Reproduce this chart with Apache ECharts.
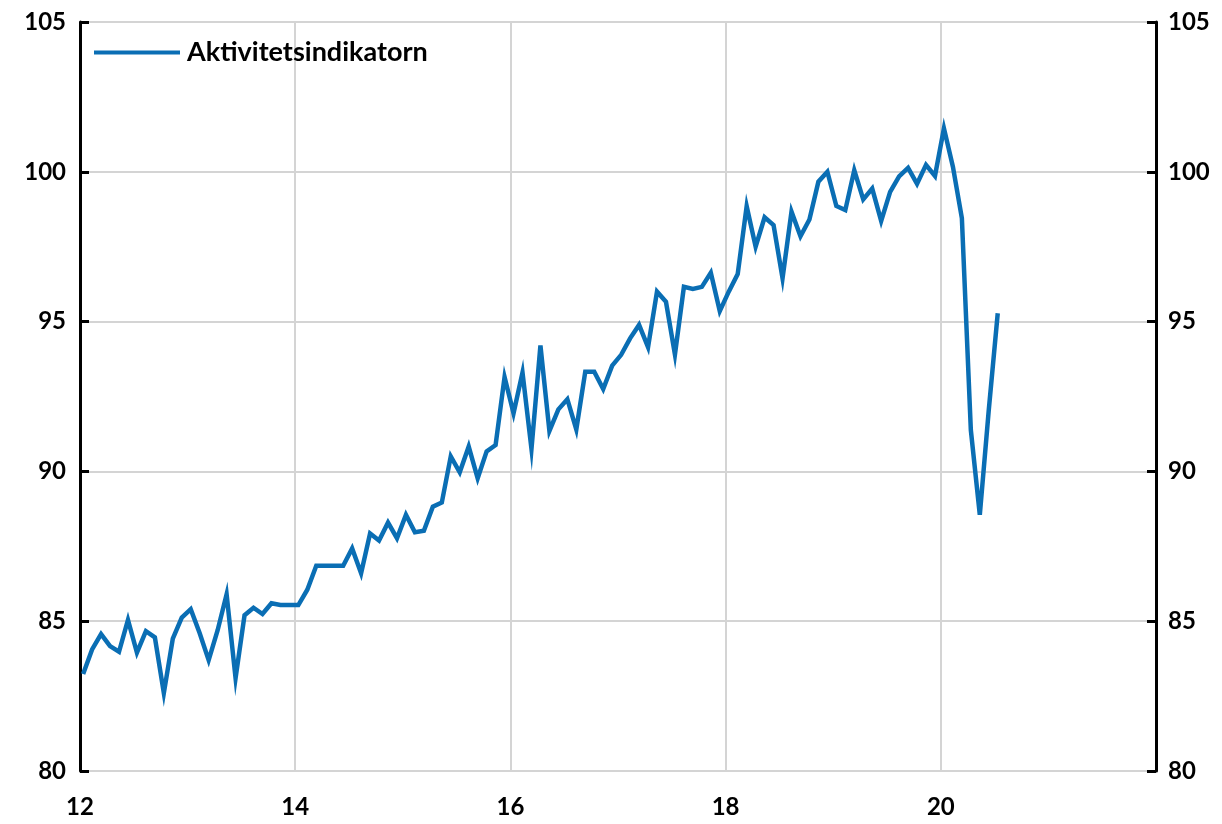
<!DOCTYPE html>
<html>
<head>
<meta charset="utf-8">
<script src="https://cdn.jsdelivr.net/npm/echarts@6/dist/echarts.min.js"></script>
<style>
html,body{margin:0;padding:0;background:#fff;}
#chart{width:1222px;height:824px;}
</style>
</head>
<body>
<div id="chart"></div>
<script>
// Series name
var seriesName = 'Aktivitetsindikatorn';
// First month of data: January 2012 (axis in two-digit years)
var startYear = 12;
// Monthly values, Jan 2012 .. Jul 2020
var values2012 = [83.24, 84.06, 84.57, 84.17, 83.98, 85.04, 83.95, 84.67, 84.46, 82.6, 84.42, 85.12];
var values2013 = [85.40, 84.6, 83.7, 84.7, 85.9, 83.1, 85.2, 85.45, 85.24, 85.6, 85.54, 85.54];
var values2014 = [85.54, 86.05, 86.85, 86.85, 86.85, 86.85, 87.43, 86.6, 87.93, 87.69, 88.29, 87.77];
var values2015 = [88.55, 87.97, 88.02, 88.82, 88.96, 90.5, 89.97, 90.83, 89.77, 90.67, 90.88, 93.15];
var values2016 = [91.94, 93.3, 90.75, 94.2, 91.35, 92.07, 92.41, 91.4, 93.33, 93.33, 92.75, 93.53];
var values2017 = [93.89, 94.44, 94.89, 94.15, 96.0, 95.66, 93.9, 96.16, 96.09, 96.16, 96.63, 95.35];
var values2018 = [96.0, 96.59, 98.85, 97.5, 98.48, 98.22, 96.45, 98.67, 97.85, 98.41, 99.67, 100.0];
var values2019 = [98.86, 98.72, 100.05, 99.08, 99.44, 98.36, 99.33, 99.85, 100.13, 99.6, 100.23, 99.86];
var values2020 = [101.45, 100.17, 98.45, 91.38, 88.55, 92.05, 95.28];
// Axis ticks
var xMin = 12, xMax = 22, xStep = 2;
var yMin = 80, yMax = 105, yStep = 5;

var allValues = [].concat(values2012, values2013, values2014, values2015, values2016, values2017, values2018, values2019, values2020);
var seriesData = allValues.map(function (v, i) {
  return [startYear + (i + 0.35) / 12, v];
});

var font = 'Lato, "Open Sans", sans-serif';
var labelStyle = { color: '#000', fontSize: 24, fontWeight: 'bold', fontFamily: font };
var gridColor = '#d4d4d4';

var chart = echarts.init(document.getElementById('chart'), null, { renderer: 'canvas' });
chart.setOption({
  animation: false,
  backgroundColor: '#fff',
  grid: { left: 80, right: 66, top: 22, bottom: 53, containLabel: false },
  legend: {
    show: true,
    left: 89, top: 34,
    itemWidth: 86, itemHeight: 4, itemGap: 10,
    icon: 'rect',
    textStyle: { color: '#000', fontSize: 27, fontWeight: 'bold', fontFamily: font, padding: [0, 0, 0, 2] },
    data: [seriesName]
  },
  xAxis: {
    type: 'value', min: xMin, max: xMax, interval: xStep,
    axisLine: { show: false },
    axisTick: { show: false },
    splitLine: { show: true, lineStyle: { color: gridColor, width: 2 } },
    axisLabel: Object.assign({ margin: 24, formatter: function (v) { return v >= xMax ? '' : String(v); } }, labelStyle)
  },
  yAxis: [{
    type: 'value', min: yMin, max: yMax, interval: yStep, position: 'left',
    axisLine: { show: true, lineStyle: { color: '#000', width: 3 } },
    axisTick: { show: true, inside: true, length: 9, lineStyle: { color: '#000', width: 3 } },
    splitLine: { show: true, lineStyle: { color: gridColor, width: 2 } },
    axisLabel: Object.assign({ margin: 14 }, labelStyle)
  }, {
    type: 'value', min: yMin, max: yMax, interval: yStep, position: 'right',
    axisLine: { show: true, lineStyle: { color: '#000', width: 3 } },
    axisTick: { show: true, inside: true, length: 9, lineStyle: { color: '#000', width: 3 } },
    splitLine: { show: false },
    axisLabel: Object.assign({ margin: 12 }, labelStyle)
  }],
  series: [{
    name: seriesName,
    type: 'line',
    data: seriesData,
    showSymbol: false,
    symbol: 'none',
    color: '#0A6EB4',
    lineStyle: { color: '#0A6EB4', width: 4.5, join: 'miter' },
    z: 5
  }]
});
</script>
</body>
</html>
